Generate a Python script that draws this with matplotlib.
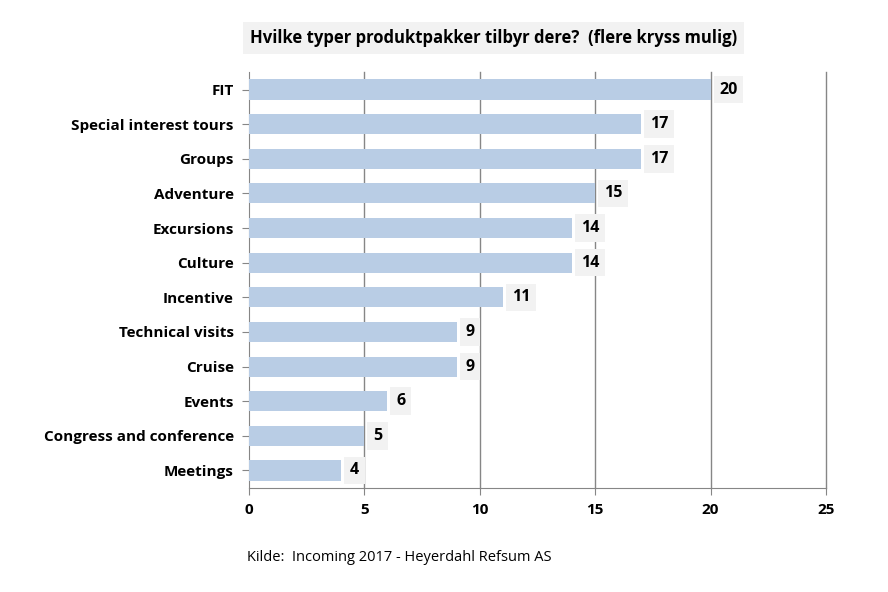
import matplotlib.pyplot as plt

# Données
kategorier = ["FIT", "Special interest tours", "Groups", "Adventure", "Excursions",
              "Culture", "Incentive", "Technical visits", "Cruise", "Events",
              "Congress and conference", "Meetings"]
antall = [20, 17, 17, 15, 14, 14, 11, 9, 9, 6, 5, 4]
x_ticks = [0, 5, 10, 15, 20, 25]

plt.rcParams['font.family'] = ['Open Sans', 'DejaVu Sans']

fig = plt.figure(figsize=(8.88, 5.92), dpi=100)
ax = fig.add_axes([0.2804, 0.176, 0.6497, 0.702])

pos = list(range(len(kategorier)))
ax.barh(pos, antall, height=0.58, color='#B9CDE5', zorder=3)

# Etiketter med grå bakgrunn
for y, v in zip(pos, antall):
    ax.text(v + 0.38, y, str(v), va='center', ha='left', fontsize=11.5, fontweight='bold',
            bbox=dict(boxstyle='square,pad=0.36', fc='#F2F2F2', ec='none'), zorder=4)

ax.set_xlim(0, 25)
ax.set_ylim(11.5, -0.5)
ax.set_xticks(x_ticks)
ax.set_xticklabels([str(t) for t in x_ticks], fontsize=11, fontweight='bold')
ax.set_yticks(pos)
ax.set_yticklabels(kategorier, fontsize=11, fontweight='bold')
ax.tick_params(axis='x', length=5, color='#868686', pad=6)
ax.tick_params(axis='y', length=5, color='#868686', pad=6)

# Rutenett
for t in x_ticks[1:]:
    ax.axvline(t, color='#868686', lw=1, zorder=1, clip_on=False)
for s in ['top', 'right']:
    ax.spines[s].set_visible(False)
for s in ['left', 'bottom']:
    ax.spines[s].set_color('#868686')

fig.text(0.556, 0.936, "Hvilke typer produktpakker tilbyr dere?  (flere kryss mulig)",
         ha='center', va='center', fontsize=12, fontweight='bold',
         bbox=dict(boxstyle='square,pad=0.4', fc='#F2F2F2', ec='none'))
fig.text(0.278, 0.059, "Kilde:  Incoming 2017 - Heyerdahl Refsum AS",
         ha='left', va='center', fontsize=10.5)

fig.savefig('out.png', dpi=100)
